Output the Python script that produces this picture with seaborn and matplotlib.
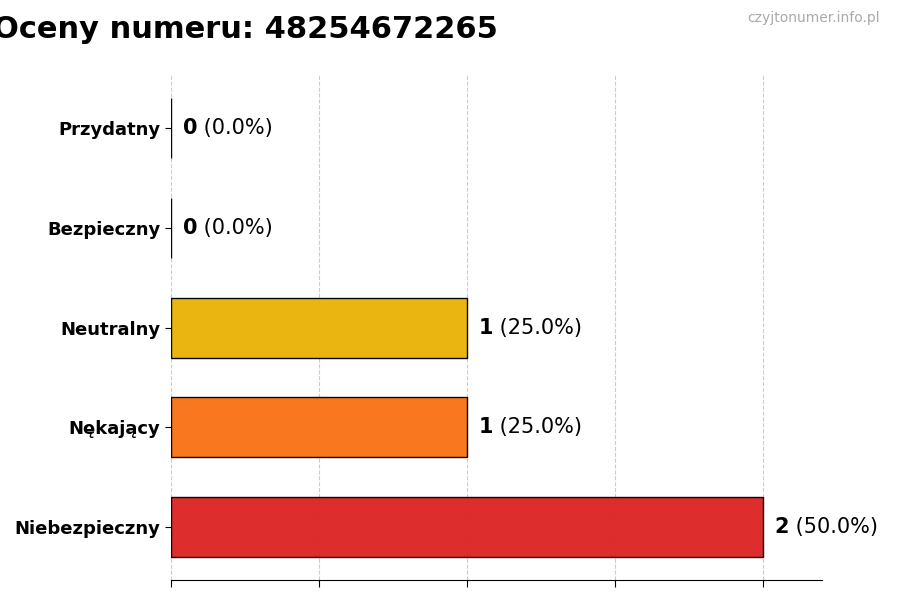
import matplotlib
matplotlib.use("Agg")
import pandas as pd
import seaborn as sns
import matplotlib.pyplot as plt

sns.set_style("white")
plt.rcParams['font.family'] = ['DejaVu Sans']
plt.rcParams['text.color'] = 'black'
plt.rcParams['xtick.color'] = 'black'
plt.rcParams['ytick.color'] = 'black'

# Dane
categories = ["Przydatny", "Bezpieczny", "Neutralny", "Nękający", "Niebezpieczny"]
counts = [0, 0, 1, 1, 2]
percents = [0.0, 0.0, 25.0, 25.0, 50.0]
colors = ["#22C55E", "#3B82F6", "#EAB308", "#F97316", "#DC2626"]
title = "Oceny numeru: 48254672265"
watermark = "czyjtonumer.info.pl"

df = pd.DataFrame({"kategoria": categories, "liczba": counts})

fig, ax = plt.subplots(figsize=(9, 6), dpi=100)
fig.subplots_adjust(left=0.19, right=0.913, top=0.875, bottom=0.033)

sns.barplot(data=df, y="kategoria", x="liczba", hue="kategoria",
            palette=dict(zip(categories, colors)), order=categories,
            width=0.6, edgecolor="black", linewidth=1, alpha=0.97,
            saturation=1, legend=False, ax=ax)

ax.set_xlim(0, 2.2)
ax.set_ylim(4.53, -0.53)
ax.set_xticks([0, 0.5, 1, 1.5, 2])
ax.set_xticklabels([])
ax.set_xlabel("")
ax.set_ylabel("")
ax.grid(axis="x", linestyle="--", color="#cccccc", linewidth=0.8)
ax.set_axisbelow(True)
ax.tick_params(axis="y", length=4, left=True)
ax.tick_params(axis="x", length=5, bottom=True)
for lbl in ax.get_yticklabels():
    lbl.set_fontweight("bold")
    lbl.set_fontsize(13)
    lbl.set_color("black")
for side in ["top", "right", "left"]:
    ax.spines[side].set_visible(False)
ax.spines["bottom"].set_color("black")

# Etykiety wartości
for i, (c, p) in enumerate(zip(counts, percents)):
    t = ax.text(c + 0.04, i, f"{c}", va="center", ha="left",
                fontsize=15, fontweight="bold", color="black")
    ax.annotate(f" ({p:.1f}%)", xycoords=t, xy=(1, 0.5), va="center",
                ha="left", fontsize=15, color="black")

fig.text(0.273, 0.95, title, ha="center", va="center", fontsize=22,
         fontweight="bold", color="black")
fig.text(0.978, 0.97, watermark, ha="right", va="center", fontsize=10,
         color="#aaaaaa")

fig.savefig("out.png", dpi=100)
